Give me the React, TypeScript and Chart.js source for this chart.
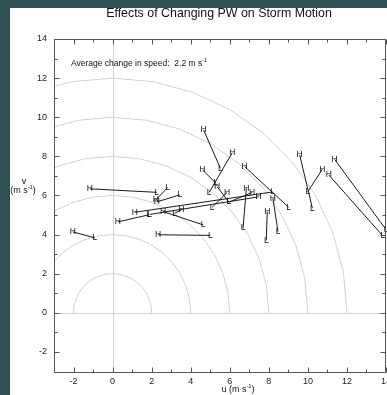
import React, { useEffect, useRef } from "react";
import { Chart, registerables } from "chart.js";

Chart.register(...registerables);

const chartTitle = "Effects of Changing PW on Storm Motion";
const avgChange = 2.2;
const xTicks = [-2, 0, 2, 4, 6, 8, 10, 12, 14];
const yTicks = [-2, 0, 2, 4, 6, 8, 10, 12, 14];
const ringRadii = [2, 4, 6, 8, 10, 12];

// High-PW ("H") storm motion (u, v) and Low-PW ("L") storm motion (u, v)
const hU = [-1.17, 2.21, 2.26, -2.04, 0.27, 1.14, 7.48, 2.33, 2.58, 3.52, 4.66, 6.13, 4.6, 6.76, 6.85, 8.21, 7.92, 5.86, 7.14, 5.35, 9.58, 10.74, 11.37, 11.07];
const hV = [6.34, 5.77, 5.67, 4.14, 4.65, 5.14, 5.93, 3.99, 5.18, 5.26, 9.35, 8.19, 7.31, 7.48, 6.37, 5.86, 5.18, 6.15, 6.15, 6.45, 8.07, 7.34, 7.85, 7.05];
const lU = [2.26, 2.82, 3.44, -0.91, 1.85, 8.19, 1.9, 5.01, 4.63, 3.18, 5.52, 4.94, 5.28, 9.01, 6.68, 8.47, 7.87, 5.1, 5.96, 5.96, 10.23, 10.0, 14.01, 13.84];
const lV = [6.16, 6.41, 6.03, 3.83, 5.01, 6.18, 5.03, 3.96, 4.5, 5.09, 7.39, 6.15, 6.64, 5.4, 4.33, 4.15, 3.7, 5.4, 5.66, 5.66, 5.35, 6.2, 4.24, 3.93];

const FONT = "'Liberation Sans', Arial, sans-serif";

function drawSupText(ctx: CanvasRenderingContext2D, parts: [string, boolean][], cx: number, cy: number, size: number) {
  let total = 0;
  const widths = parts.map(([t, sup]) => {
    ctx.font = `${sup ? size * 0.65 : size}px ${FONT}`;
    const w = ctx.measureText(t).width;
    total += w;
    return w;
  });
  let x = cx - total / 2;
  ctx.textAlign = "left";
  ctx.textBaseline = "middle";
  parts.forEach(([t, sup], i) => {
    ctx.font = `${sup ? size * 0.65 : size}px ${FONT}`;
    ctx.fillText(t, x, sup ? cy - size * 0.35 : cy);
    x += widths[i];
  });
}

const stormPlugin = {
  id: "stormPlugin",
  beforeDraw(chart: any) {
    const ctx = chart.ctx as CanvasRenderingContext2D;
    const { width, height } = chart;
    const xs = chart.scales.x;
    const ys = chart.scales.y;
    const area = chart.chartArea;
    ctx.save();
    ctx.fillStyle = "#2e5050";
    ctx.fillRect(0, 0, width, height);
    ctx.fillStyle = "#ffffff";
    ctx.fillRect(10, 8, width - 10, height - 8);
    // title
    ctx.fillStyle = "#111";
    ctx.font = `12.4px ${FONT}`;
    ctx.textAlign = "center";
    ctx.textBaseline = "middle";
    ctx.fillText(chartTitle, 219, 14);
    // reference rings & axes lines
    ctx.beginPath();
    ctx.rect(area.left, area.top, area.right - area.left, area.bottom - area.top);
    ctx.clip();
    ctx.strokeStyle = "#d2d2d2";
    ctx.lineWidth = 1;
    ringRadii.forEach((r) => {
      ctx.beginPath();
      for (let a = 0; a <= 180; a += 10) {
        const rad = (a * Math.PI) / 180;
        const px = xs.getPixelForValue(r * Math.cos(rad));
        const py = ys.getPixelForValue(r * Math.sin(rad));
        if (a === 0) ctx.moveTo(px, py);
        else ctx.lineTo(px, py);
      }
      ctx.stroke();
    });
    ctx.beginPath();
    const x0 = Math.round(xs.getPixelForValue(0)) + 0.5;
    const y0 = Math.round(ys.getPixelForValue(0)) + 0.5;
    ctx.moveTo(x0, area.top);
    ctx.lineTo(x0, area.bottom);
    ctx.moveTo(area.left, y0);
    ctx.lineTo(area.right, y0);
    ctx.stroke();
    ctx.restore();
  },
  afterDatasetsDraw(chart: any) {
    const ctx = chart.ctx as CanvasRenderingContext2D;
    const xs = chart.scales.x;
    const ys = chart.scales.y;
    const area = chart.chartArea;
    ctx.save();
    // H / L markers
    ctx.fillStyle = "#111";
    ctx.font = `8.5px ${FONT}`;
    ctx.textAlign = "center";
    ctx.textBaseline = "middle";
    chart.data.datasets.forEach((_: any, i: number) => {
      const meta = chart.getDatasetMeta(i);
      const p0 = meta.data[0];
      const p1 = meta.data[1];
      if (p0) ctx.fillText("H", p0.x, p0.y);
      if (p1) ctx.fillText("L", p1.x, p1.y);
    });
    // frame with inward ticks
    ctx.strokeStyle = "#555";
    ctx.lineWidth = 1;
    const L = Math.round(area.left) + 0.5;
    const R = Math.round(area.right) - 0.5;
    const T = Math.round(area.top) + 0.5;
    const B = Math.round(area.bottom) + 0.5;
    ctx.beginPath();
    ctx.rect(L, T, R - L, B - T);
    for (let u = -3; u <= 14; u++) {
      const px = Math.round(xs.getPixelForValue(u)) + 0.5;
      const len = u % 2 === 0 ? 5 : 3;
      ctx.moveTo(px, B);
      ctx.lineTo(px, B - len);
      ctx.moveTo(px, T);
      ctx.lineTo(px, T + len);
    }
    for (let v = -3; v <= 14; v++) {
      const py = Math.round(ys.getPixelForValue(v)) + 0.5;
      const len = v % 2 === 0 ? 5 : 3;
      ctx.moveTo(L, py);
      ctx.lineTo(L + len, py);
      ctx.moveTo(R, py);
      ctx.lineTo(R - len, py);
    }
    ctx.stroke();
    // annotation
    ctx.fillStyle = "#111";
    ctx.textAlign = "left";
    const ann: [string, boolean][] = [[`Average change in speed:  ${avgChange.toFixed(1)} m s`, false], ["-1", true]];
    ctx.font = `8.5px ${FONT}`;
    const w0 = ctx.measureText(ann[0][0]).width;
    ctx.font = `${8.5 * 0.65}px ${FONT}`;
    const w1 = ctx.measureText("-1").width;
    drawSupText(ctx, ann, 71 + (w0 + w1) / 2, 63.5, 8.5);
    // axis titles
    drawSupText(ctx, [["u (m s", false], ["-1", true], [")", false]], 238, 390, 9);
    drawSupText(ctx, [["v", false]], 24, 182, 9);
    drawSupText(ctx, [["(m s", false], ["-1", true], [")", false]], 23, 190.5, 9);
    ctx.restore();
  },
};

export default function App() {
  const ref = useRef<HTMLCanvasElement | null>(null);
  useEffect(() => {
    document.body.style.margin = "0";
    document.body.style.overflow = "hidden";
    if (!ref.current) return;
    const datasets = hU.map((_, i) => ({
      data: [
        { x: hU[i], y: hV[i] },
        { x: lU[i], y: lV[i] },
      ],
      showLine: true,
      borderColor: "#1a1a1a",
      borderWidth: 1,
      pointRadius: 0,
      pointHoverRadius: 0,
    }));
    const chart = new Chart(ref.current, {
      type: "scatter",
      data: { datasets },
      options: {
        animation: false,
        responsive: false,
        events: [],
        layout: { padding: { top: 39, right: 1, left: 0, bottom: 0 } },
        plugins: { legend: { display: false }, title: { display: false }, tooltip: { enabled: false } },
        scales: {
          x: {
            type: "linear",
            min: -3,
            max: 14,
            grid: { display: false, drawTicks: false },
            border: { display: false },
            afterBuildTicks: (s: any) => {
              s.ticks = xTicks.map((v) => ({ value: v }));
            },
            afterFit: (s: any) => {
              s.height = 23.5;
              s.paddingLeft = 0;
              s.paddingRight = 0;
            },
            ticks: { color: "#222", font: { family: FONT, size: 9 }, padding: 5, maxRotation: 0, autoSkip: false },
          },
          y: {
            type: "linear",
            min: -3,
            max: 14,
            grid: { display: false, drawTicks: false },
            border: { display: false },
            afterBuildTicks: (s: any) => {
              s.ticks = yTicks.map((v) => ({ value: v }));
            },
            afterFit: (s: any) => {
              s.width = 54;
              s.paddingTop = 0;
              s.paddingBottom = 0;
            },
            ticks: { color: "#222", font: { family: FONT, size: 9 }, padding: 7, autoSkip: false },
          },
        },
      },
      plugins: [stormPlugin],
    });
    return () => chart.destroy();
  }, []);
  return <canvas ref={ref} width={387} height={395} style={{ display: "block", width: 387, height: 395 }} />;
}
